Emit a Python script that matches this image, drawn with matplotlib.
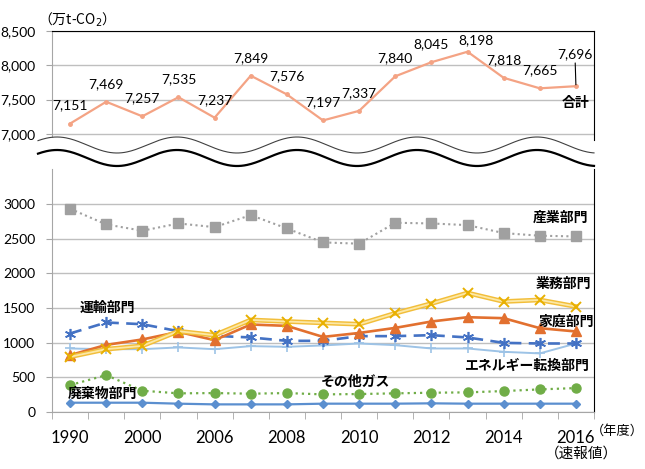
import numpy as np
import matplotlib
matplotlib.use("Agg")
import matplotlib.pyplot as plt

# data (万t-CO2), fiscal years
years = ['1990', '1995', '2000', '2005', '2006', '2007', '2008', '2009',
         '2010', '2011', '2012', '2013', '2014', '2015', '2016']
total = [7151, 7469, 7257, 7535, 7237, 7849, 7576, 7197,
         7337, 7840, 8045, 8198, 7818, 7665, 7696]
industry = [2931, 2705, 2614, 2719, 2666, 2839, 2647, 2446,
            2427, 2729, 2719, 2695, 2580, 2542, 2532]
commercial = [796, 906, 954, 1165, 1108, 1328, 1305, 1285,
              1266, 1424, 1564, 1717, 1593, 1616, 1521]
household = [820, 968, 1046, 1155, 1036, 1262, 1242, 1083,
             1140, 1213, 1305, 1367, 1353, 1209, 1161]
transport = [1132, 1291, 1266, 1165, 1098, 1075, 1026, 1026,
             1094, 1094, 1108, 1075, 997, 988, 988]
energy = [916, 906, 906, 931, 906, 950, 940, 960,
          988, 964, 916, 916, 868, 845, 988]
other_gas = [388, 532, 307, 269, 273, 264, 273, 254,
             259, 269, 278, 283, 302, 326, 345]
waste = [134, 134, 134, 120, 110, 110, 110, 120,
         120, 120, 125, 120, 120, 120, 120]

JP = ['Noto Sans CJK JP', 'DejaVu Sans']
NUM = ['Lato', 'DejaVu Sans']
plt.rcParams['font.family'] = NUM

x = np.arange(len(years))
W, H = 645, 469
fig = plt.figure(figsize=(W / 100, H / 100), dpi=100)


def frac(px_left, px_top, px_right, px_bottom):
    return [px_left / W, 1 - px_bottom / H, (px_right - px_left) / W, (px_bottom - px_top) / H]


grid_c = '#BFBFBF'

# ---- upper panel: total
ax1 = fig.add_axes(frac(52, 31, 594, 140))
ax1.plot(x, total, color='#F4A384', lw=1.6, marker='o', ms=2.5)
ax1.set_xlim(-0.5, len(years) - 0.5)
ax1.set_ylim(6912, 8500)
ax1.set_yticks([7000, 7500, 8000, 8500])
ax1.set_yticklabels([f'{v:,}' for v in [7000, 7500, 8000, 8500]])
ax1.set_xticks([])
ax1.grid(axis='y', color=grid_c, lw=1)
ax1.set_axisbelow(True)

lbl_off = {11: (8, 12), 14: (-1, 32)}
for i, v in enumerate(total):
    dx, dy = lbl_off.get(i, (0, 18))
    kw = {}
    if i == 14:
        kw['arrowprops'] = dict(arrowstyle='-', color='black', lw=0.8, shrinkA=0, shrinkB=1)
    ax1.annotate(f'{v:,}', (i, v), xytext=(dx * 0.72, dy * 0.72), textcoords='offset points',
                 ha='center', va='center', fontsize=10, **kw)
ax1.text(14, 7444, '合計', ha='center', va='center', fontsize=10, fontweight='bold', family=JP)

# ---- lower panel: sectors
ax2 = fig.add_axes(frac(52, 169.3, 594, 412))
ax2.plot(x, industry, color='#A0A0A0', lw=1.5, ls=(0, (1, 1.6)), marker='s', ms=6.5, zorder=3)
ax2.plot(x, energy, color='#9DC3E6', lw=1.4, marker='+', ms=7, mew=1.2, zorder=3)
ax2.plot(x, other_gas, color='#70AD47', lw=1.6, ls=(0, (1, 1.8)), marker='o', ms=6.5, zorder=3)
ax2.plot(x, waste, color='#5B8FCF', lw=1.6, marker='D', ms=4.5, zorder=3)
ax2.plot(x, transport, color='#4472C4', lw=1.9, ls=(0, (4.5, 2.8)), marker=(6, 2, 0), ms=8,
         mew=1.2, zorder=4)
ax2.plot(x, household, color='#E2702F', lw=1.9, marker='^', ms=6.5, zorder=5)
ax2.plot(x, commercial, color='#F2BE3A', lw=3.4, zorder=6)
ax2.plot(x, commercial, color='#FCE8A6', lw=1.3, marker='x', ms=7, mew=1.4, mec='#E8B000', zorder=6)

ax2.set_xlim(-0.5, len(years) - 0.5)
ax2.set_ylim(0, 3500)
ax2.set_yticks(range(0, 3001, 500))
ax2.set_xticks(x[::2])
ax2.set_xticklabels(years[::2])
ax2.set_xticks(np.arange(-0.5, len(years)), minor=True)
ax2.tick_params(axis='x', which='major', length=0, pad=13, labelsize=12)
ax2.tick_params(axis='x', which='minor', length=5, color='#A6A6A6')
ax2.grid(axis='y', color=grid_c, lw=1)
ax2.set_axisbelow(True)

for ax in (ax1, ax2):
    ax.tick_params(axis='y', length=4, color='#A6A6A6', labelsize=10, pad=8)
    ax.spines['left'].set_color('#A6A6A6')
    ax.spines['right'].set_color('black')
    ax.spines['top'].set_color('black')
    ax.spines['bottom'].set_color('#A6A6A6')
ax1.spines['bottom'].set_visible(False)
ax2.spines['top'].set_visible(False)

sector_lbls = [('産業部門', 13.56, 2806), ('業務部門', 13.64, 1842), ('家庭部門', 13.72, 1302),
               ('運輸部門', 1.04, 1504), ('エネルギー転換部門', 12.65, 662),
               ('その他ガス', 7.89, 432), ('廃棄物部門', 0.89, 259)]
for s, lx, ly in sector_lbls:
    ax2.text(lx, ly, s, ha='center', va='center', fontsize=10, fontweight='bold',
             family=JP, zorder=8)

# ---- overlay: axis break wave and unit texts (pixel coords)
ov = fig.add_axes([0, 0, 1, 1], zorder=10)
ov.set_xlim(0, W)
ov.set_ylim(H, 0)
ov.axis('off')
ov.patch.set_visible(False)
wx = np.linspace(38, 594, 400)
wy = 145 - 8 * np.cos(2 * np.pi * (wx - 177) / 120)
ov.fill_between(wx, wy, wy + 13, color='white', lw=0)
ov.plot(wx, wy, color='#404040', lw=0.8)
ov.plot(wx, wy + 13, color='black', lw=1.6)

ov.text(38, 20, '（万t-CO$_2$）', ha='left', va='center', fontsize=10, family=JP)
ov.text(591, 431, '（年度）', ha='left', va='center', fontsize=9.5, family=JP)
ov.text(581, 454, '（速報値）', ha='center', va='center', fontsize=10.5, family=JP)

fig.savefig('out.png', dpi=100)
